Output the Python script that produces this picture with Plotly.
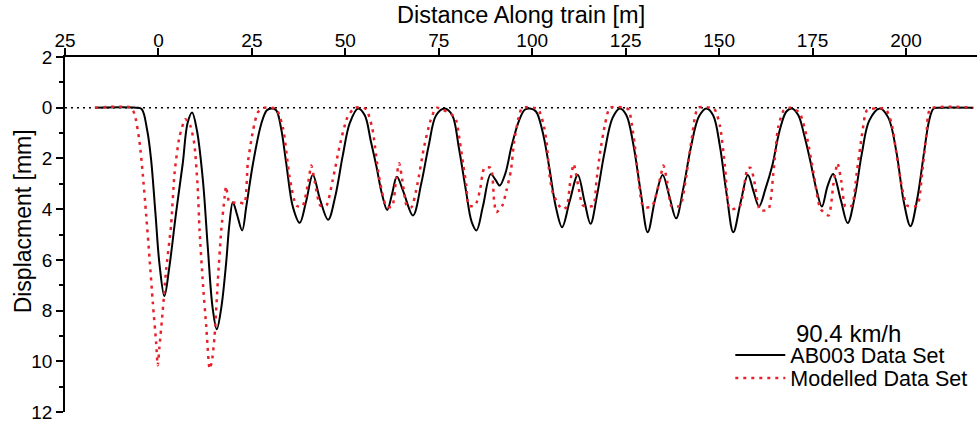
import plotly.graph_objects as go

# Measured deflection (AB003) along the train
ab003_x = [-17, -6, -4.5, -3, -2, -0.8, 0.3, 1.6, 2.9, 4.7, 6.5, 7.8, 9.0, 10.3, 11.9, 13.2, 14.5, 15.6,
           16.8, 18.1, 19.0, 19.9, 21.0, 22.4, 23.5, 25.3, 27.5, 29, 30.2, 31.5, 32.8, 34.2, 36.0, 37.8,
           39.5, 41.3, 43.2, 45.4, 47.3, 49.3, 51.2, 53.4, 55.2, 56.8, 58.3, 59.8, 61.2, 62.5, 63.8, 65.5,
           68.1, 70.3, 72.3, 74.3, 76.6, 78.6, 80.4, 82.3, 83.8, 85.1, 86.8, 88.9, 90.2, 91.3, 92.8, 94.5,
           96.5, 98, 99.4, 101, 102.7, 104.5, 106.3, 108, 110, 112.2, 114, 115.6, 117.4, 119.3, 121.5,
           123.5, 125.2, 127, 129, 130.9, 132.9, 134.9, 136.7, 138.5, 140.4, 142.4, 144.6, 146.6, 148.4,
           150.2, 152, 153.8, 155.8, 157.7, 159.2, 160.7, 162.4, 164.2, 166.2, 168, 169.5, 171.2, 172.8,
           174.4, 176.0, 177.5, 179, 180.5, 182.5, 184.4, 186.3, 188.2, 190.2, 193, 195.3, 197.5, 199.4,
           201.2, 203, 204.8, 206.2, 207.4, 209, 218]
ab003_y = [0, 0, 0.05, 0.9, 2.0, 4.17, 6.2, 7.43, 6.3, 4.17, 2.2, 0.6, 0.19, 0.9, 2.87, 5.5, 7.9, 8.74,
           7.9, 6.14, 4.57, 3.73, 4.2, 4.84, 3.9, 2.2, 0.64, 0.1, 0.03, 0.1, 0.8, 2.2, 3.93, 4.54,
           3.7, 2.64, 3.6, 4.42, 3.5, 1.9, 0.6, 0.03, 0.3, 1.3, 2.3, 3.4, 4.03, 3.4, 2.72, 3.3,
           4.25, 3.0, 1.5, 0.3, 0.03, 0.3, 1.6, 3.3, 4.5, 4.84, 3.9, 2.62, 2.85, 3.07, 2.6, 1.5,
           0.5, 0.08, 0.03, 0.15, 0.9, 2.3, 3.9, 4.71, 3.7, 2.65, 3.7, 4.58, 3.4, 1.8, 0.4,
           0.03, 0.3, 1.4, 3.3, 4.91, 3.6, 2.65, 3.5, 4.36, 3.2, 1.6, 0.35, 0.03, 0.3,
           1.5, 3.4, 4.91, 3.7, 2.65, 3.3, 3.89, 3.2, 2.3, 0.9, 0.15, 0.03, 0.3, 1.1,
           2.1, 3.2, 3.9, 3.1, 2.61, 3.6, 4.55, 3.5, 1.8, 0.5, 0.03, 0.4, 1.8, 3.7,
           4.67, 3.6, 1.8, 0.5, 0.03, 0, 0]

# Modelled deflection
model_x = [-17, -7.3, -6.3, -5.1, -4.2, -3.3, -2.4, -1.5, -0.6, -0.2, 0.27, 1.15, 2.06, 3.4, 4.3, 5.6,
           7.2, 8.5, 9.6, 10.5, 11.0, 11.9, 12.8, 13.7, 14.3, 15.0, 15.9, 16.8, 17.7, 18.1, 19.0, 21.7,
           23.0, 23.9, 25.3, 26.6, 28.4, 31.5, 33.3, 35.1, 36.9, 38.5, 40.0, 40.9, 41.8, 43.3, 44.9,
           46.6, 48.5, 50.5, 52.5, 55.5, 57.2, 59.0, 61.0, 62.5, 63.6, 64.4, 65.3, 66.5, 67.7, 69.3,
           71.0, 72.8, 74.4, 79.3, 80.6, 81.5, 82.4, 83.0, 84.7, 86.0, 87.2, 88.9, 89.8, 90.4, 92.0,
           93.1, 94.3, 95.2, 96.5, 97.3, 101.5, 102.9, 103.8, 104.7, 105.6, 107.9, 109.2, 110.1, 111.1,
           112.3, 113.6, 116.3, 117.2, 118.1, 119.5, 120.8, 125.6, 127, 128.3, 129.7, 132, 134.2, 135.1,
           136.1, 137.3, 139.6, 141, 142.6, 144.4, 148.7, 150.2, 151.5, 152.9, 155.5, 157.6, 158.4,
           159.3, 161, 163.2, 164.5, 165.8, 167.3, 169, 171.5, 173.5, 175.3, 177.1, 179.3, 180.6, 181.7,
           182.7, 183.8, 185.5, 186.8, 188.3, 189.6, 194.5, 196.1, 197.6, 199.0, 200.3, 203, 204.3,
           205.5, 206.5, 218]
model_y = [0, 0, 0.3, 1.3, 2.6, 4.2, 5.9, 7.7, 9.3, 10.16, 9.44, 8.0, 6.4, 4.6, 2.6, 1.17,
           0.45, 0.7, 1.43, 3.14, 4.84, 6.94, 8.65, 10.3, 10.0, 9.04, 6.8, 4.84, 3.53, 3.1, 3.73, 3.73,
           3.78, 2.2, 0.9, 0.18, 0, 0.05, 0.78, 2.74, 3.86, 3.9, 3.0, 2.28, 2.9, 3.86, 3.86,
           2.87, 1.5, 0.4, 0, 0.05, 0.8, 2.7, 3.9, 3.9, 2.8, 2.19, 2.9, 3.9, 3.92, 3.0,
           1.6, 0.5, 0, 0.38, 1.3, 2.2, 3.1, 3.86, 3.86, 3.27, 2.37, 2.37, 3.66, 4.12, 3.86,
           3.27, 2.48, 1.3, 0.3, 0, 0.05, 0.58, 1.3, 2.74, 3.4, 3.99, 3.92, 3.0, 2.22,
           3.07, 3.86, 3.86, 2.87, 1.82, 0.64, 0, 0.05, 1.0, 2.6, 3.9, 3.9, 2.8, 2.28,
           2.9, 3.9, 3.86, 2.9, 1.3, 0, 0.05, 0.7, 2.2, 3.99, 3.9, 2.4, 2.37,
           2.8, 4.05, 4.0, 2.6, 0.78, 0.1, 0, 0.2, 1.17, 2.6, 3.98, 4.25, 3.0, 2.19,
           2.9, 3.9, 3.86, 2.6, 1.0, 0.1, 0.05, 0.6, 1.96, 3.2, 3.86, 3.86, 2.6,
           1.0, 0.05, 0]

x_ticks = [-25, 0, 25, 50, 75, 100, 125, 150, 175, 200]
x_tick_text = ["25", "0", "25", "50", "75", "100", "125", "150", "175", "200"]
y_ticks = [-2, 0, 2, 4, 6, 8, 10, 12]
y_tick_text = ["2", "0", "2", "4", "6", "8", "10", "12"]

FONT = "Arial, Liberation Sans, sans-serif"

fig = go.Figure()
fig.add_trace(go.Scatter(
    x=ab003_x, y=ab003_y, mode="lines", name="AB003 Data Set", legend="legend",
    line=dict(color="black", width=2, shape="spline", smoothing=1.0),
))
fig.add_trace(go.Scatter(
    x=model_x, y=model_y, mode="lines", name="Modelled Data Set", legend="legend2",
    line=dict(color="#e8202a", width=2.5, dash="3px,5px", shape="spline", smoothing=0.6),
))

# zero reference line
fig.add_shape(type="line", xref="x", yref="y", x0=-25, x1=219, y0=0, y1=0,
              line=dict(color="black", width=1.5, dash="2px,4px"), layer="below")

# speed label above the legend
fig.add_annotation(text="90.4 km/h", xref="paper", yref="paper", x=0.859, y=0.2225,
                   xanchor="center", yanchor="middle", showarrow=False,
                   font=dict(family=FONT, size=24, color="black"))

# y-axis title
fig.add_annotation(text="Displacment [mm]", xref="paper", yref="paper", x=0, xshift=-42,
                   y=0.537, xanchor="center", yanchor="middle", textangle=-90, showarrow=False,
                   font=dict(family=FONT, size=23, color="black"))

# x-axis title above the top axis
fig.add_annotation(text="Distance Along train [m]", xref="paper", yref="paper", x=0.5, y=1,
                   yshift=42, xanchor="center", yanchor="middle", showarrow=False,
                   font=dict(family=FONT, size=23.5, color="black"))

legend_common = dict(
    xanchor="left", yanchor="middle", bgcolor="rgba(0,0,0,0)", borderwidth=0,
    font=dict(family=FONT, size=21.5, color="black"), itemwidth=50,
)

fig.update_layout(
    width=977, height=423,
    margin=dict(l=65, r=0, t=57, b=11),
    paper_bgcolor="white", plot_bgcolor="white",
    font=dict(family=FONT, size=18, color="black"),
    showlegend=True,
    legend=dict(x=0.7295, y=0.1606, **legend_common),
    legend2=dict(x=0.7295, y=0.0958, **legend_common),
    xaxis=dict(
        side="top", range=[-25, 219], tickmode="array", tickvals=x_ticks, ticktext=x_tick_text,
        showline=True, linecolor="black", linewidth=1.5, mirror=False,
        ticks="outside", ticklen=7, tickwidth=1.5, tickcolor="black",
        ticklabelstandoff=-6,
        showgrid=False, zeroline=False,
        tickfont=dict(family=FONT, size=19),
    ),
    yaxis=dict(
        range=[12, -2], tickmode="array", tickvals=y_ticks, ticktext=y_tick_text,
        showline=True, linecolor="black", linewidth=1.5, mirror=False,
        ticks="outside", ticklen=7, tickwidth=1.5, tickcolor="black",
        minor=dict(ticks="outside", ticklen=4, tickwidth=1.5, tickcolor="black", dtick=1, tick0=-1),
        showgrid=False, zeroline=False,
        tickfont=dict(family=FONT, size=19),
    ),
)

fig.write_html("out.html")
